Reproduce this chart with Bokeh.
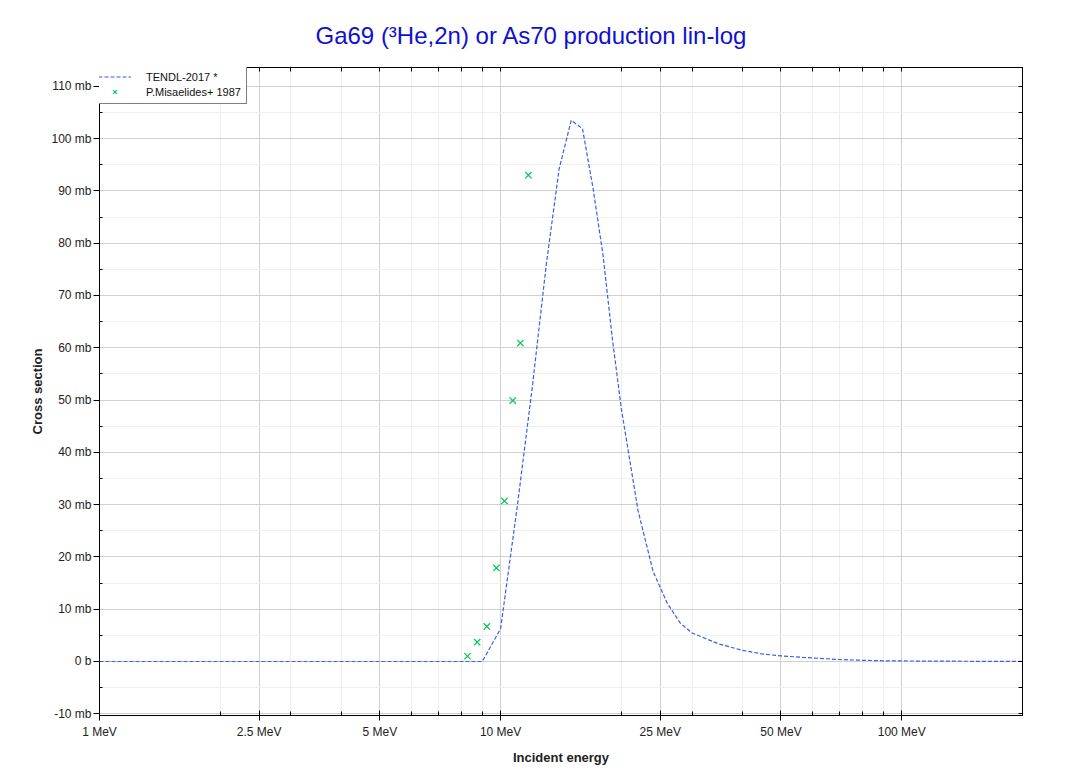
from bokeh.plotting import figure
from bokeh.models import (FixedTicker, LogAxis, LinearAxis, Range1d, Legend, LegendItem)
from bokeh.embed import file_html
from bokeh.resources import INLINE

# TENDL-2017 evaluation (MeV, mb)
tendl_e = [1, 2, 3, 4, 5, 6, 7, 8, 9, 10, 11, 12, 13, 14, 15, 16, 17, 18, 19, 20,
           22, 24, 26, 28, 30, 35, 40, 45, 50, 60, 70, 80, 90, 100, 120, 150, 200]
tendl_xs = [0, 0, 0, 0, 0, 0, 0, 0, 0, 6.3, 29.6, 52.6, 76.0, 94.3, 103.5, 101.9, 90.5, 77.7, 61.6, 48.3,
            28.9, 17.2, 11.2, 7.4, 5.45, 3.35, 2.15, 1.43, 1.07, 0.67, 0.38, 0.23, 0.13, 0.1, 0.07, 0.04, 0.02]

# P.Misaelides+ 1987 experimental data (MeV, mb)
exp_e = [8.27, 8.74, 9.24, 9.76, 10.22, 10.72, 11.20, 11.73]
exp_xs = [1.0, 3.7, 6.7, 17.9, 30.7, 49.9, 60.9, 93.0]

x_major = [1, 2.5, 5, 10, 25, 50, 100]
x_major_labels = ["1 MeV", "2.5 MeV", "5 MeV", "10 MeV", "25 MeV", "50 MeV", "100 MeV"]
x_minor = [2, 3, 4, 6, 7, 8, 9, 20, 30, 40, 60, 70, 80, 90, 200]

y_major = [-10, 0, 10, 20, 30, 40, 50, 60, 70, 80, 90, 100, 110]
y_major_labels = ["-10 mb", "0 b", "10 mb", "20 mb", "30 mb", "40 mb", "50 mb", "60 mb",
                  "70 mb", "80 mb", "90 mb", "100 mb", "110 mb"]
y_minor = [-5, 5, 15, 25, 35, 45, 55, 65, 75, 85, 95, 105]

FONT = "Liberation Sans"

p = figure(frame_width=923, frame_height=648, x_axis_type="log",
           x_range=Range1d(1, 200), y_range=Range1d(-10.33, 113.6),
           output_backend="svg", toolbar_location=None,
           min_border_left=99, min_border_right=26, min_border_top=66, min_border_bottom=56)

p.title.text = "Ga69 (³He,2n) or As70 production lin-log"
p.title.align = "left"
p.title.offset = 216
p.title.standoff = 38
p.title.text_font = FONT
p.title.text_font_size = "24px"
p.title.text_font_style = "normal"
p.title.text_color = "#1010d0"

p.outline_line_color = "black"
p.outline_line_alpha = 1
p.background_fill_color = "white"
p.border_fill_color = "white"

xticker = FixedTicker(ticks=x_major, minor_ticks=x_minor)
yticker = FixedTicker(ticks=y_major, minor_ticks=y_minor)

xa = p.xaxis[0]
xa.ticker = xticker
xa.major_label_overrides = dict(zip(x_major, x_major_labels))
ya = p.yaxis[0]
ya.ticker = yticker
ya.major_label_overrides = dict(zip(y_major, y_major_labels))

for ax in (xa, ya):
    ax.axis_line_color = "black"
    ax.major_tick_line_color = "black"
    ax.minor_tick_line_color = "black"
    ax.major_label_text_font = FONT
    ax.major_label_text_font_size = "12px"
    ax.major_label_text_color = "#222222"
    ax.axis_label_text_font = FONT
    ax.axis_label_text_font_size = "13px"
    ax.axis_label_text_font_style = "bold"
    ax.axis_label_text_color = "#222222"

xa.axis_label = "Incident energy"
xa.major_tick_in = 5
xa.major_tick_out = 5
xa.minor_tick_in = 4
xa.minor_tick_out = 0
xa.major_label_standoff = 4
xa.axis_label_standoff = 8

ya.axis_label = "Cross section"
ya.major_tick_in = 0
ya.major_tick_out = 6
ya.minor_tick_in = 3
ya.minor_tick_out = 0
ya.major_label_standoff = 2
ya.axis_label_standoff = 3

# right / top axes: tick marks only (all as minor ticks, so no labels are drawn)
ra = LinearAxis(ticker=FixedTicker(ticks=[], minor_ticks=y_major + y_minor),
                minor_tick_in=4, minor_tick_out=0, major_tick_in=0, major_tick_out=0,
                axis_line_color="black", minor_tick_line_color="black")
ta = LogAxis(ticker=FixedTicker(ticks=[], minor_ticks=x_major + x_minor),
             minor_tick_in=4, minor_tick_out=0, major_tick_in=0, major_tick_out=0,
             axis_line_color="black", minor_tick_line_color="black")
p.add_layout(ra, "right")
p.add_layout(ta, "above")

p.xgrid.ticker = xticker
p.ygrid.ticker = yticker
for g in (p.xgrid[0], p.ygrid[0]):
    g.grid_line_color = "#d0d0d0"
    g.minor_grid_line_color = "#efefef"

line = p.line(tendl_e, tendl_xs, line_color="#3a5fe0", line_width=1.2, line_dash="4 2")
sc = p.scatter(exp_e, exp_xs, marker="x", size=9, line_color="#00c850", line_width=1.2)

legend = Legend(items=[LegendItem(label="TENDL-2017 *", renderers=[line]),
                       LegendItem(label="P.Misaelides+ 1987", renderers=[sc])],
                location=(-7, 611), border_line_color="black", border_line_width=1,
                background_fill_alpha=1, label_text_font=FONT, label_text_font_size="11px",
                label_text_color="#111111",
                glyph_width=33, glyph_height=13, label_height=13, spacing=2, padding=5,
                margin=0, label_standoff=15)
p.add_layout(legend)

open("out.html", "w").write(file_html(p, INLINE))
